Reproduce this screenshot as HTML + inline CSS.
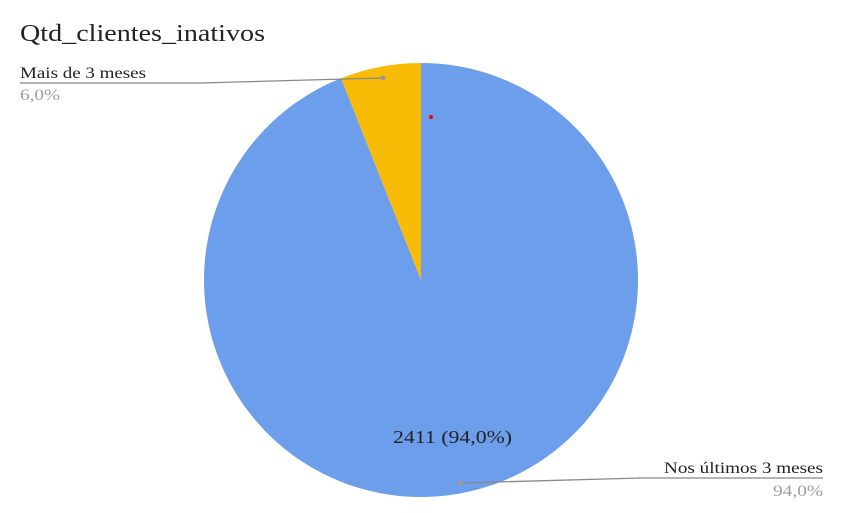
<!DOCTYPE html>
<html><head><meta charset="utf-8"><style>
body{margin:0;background:#fff;}
svg{display:block;font-family:"Liberation Serif",serif;}
</style></head><body>
<svg id="chart" width="842" height="513">
<text x="20" y="41" font-size="24" fill="#222" textLength="245" lengthAdjust="spacingAndGlyphs">Qtd_clientes_inativos</text>
<g id="slices"></g>
<circle cx="431" cy="117" r="2" fill="#e00"/>
<g>
<text x="20" y="78" font-size="16" fill="#222" textLength="126" lengthAdjust="spacingAndGlyphs">Mais de 3 meses</text>
<text x="20" y="100" font-size="16" fill="#9e9e9e" textLength="40" lengthAdjust="spacingAndGlyphs">6,0%</text>
<polyline points="20,83 200,83 383,78" fill="none" stroke="#888" stroke-width="1.3"/>
<circle cx="383" cy="78" r="2.5" fill="#999"/>
</g>
<g>
<text x="664" y="473" font-size="16" fill="#222" textLength="159" lengthAdjust="spacingAndGlyphs">Nos últimos 3 meses</text>
<text x="773" y="496" font-size="16" fill="#9e9e9e" textLength="50" lengthAdjust="spacingAndGlyphs">94,0%</text>
<polyline points="823,478 640,478 460,483" fill="none" stroke="#888" stroke-width="1.3"/>
<circle cx="460" cy="483" r="2.5" fill="#999"/>
</g>
<text x="393" y="443" font-size="18" fill="#222" textLength="119" lengthAdjust="spacingAndGlyphs">2411 (94,0%)</text>
</svg>
<script>
const categories=["Nos últimos 3 meses","Mais de 3 meses"];
const values=[2411,154];
const colors=["#6d9eeb","#f9bc06"];
const cx=421,cy=280,r=217;
const total=values.reduce((a,b)=>a+b,0);
const g=document.getElementById('slices');
let a=0;
values.forEach((v,i)=>{
  const a0=a,a1=a+v/total*2*Math.PI;a=a1;
  const x0=cx+r*Math.sin(a0),y0=cy-r*Math.cos(a0);
  const x1=cx+r*Math.sin(a1),y1=cy-r*Math.cos(a1);
  const large=(a1-a0)>Math.PI?1:0;
  const p=document.createElementNS('http://www.w3.org/2000/svg','path');
  p.setAttribute('d',`M${cx},${cy} L${x0},${y0} A${r},${r} 0 ${large} 1 ${x1},${y1} Z`);
  p.setAttribute('fill',colors[i]);
  
  
  g.appendChild(p);
});
</script>
</body></html>
